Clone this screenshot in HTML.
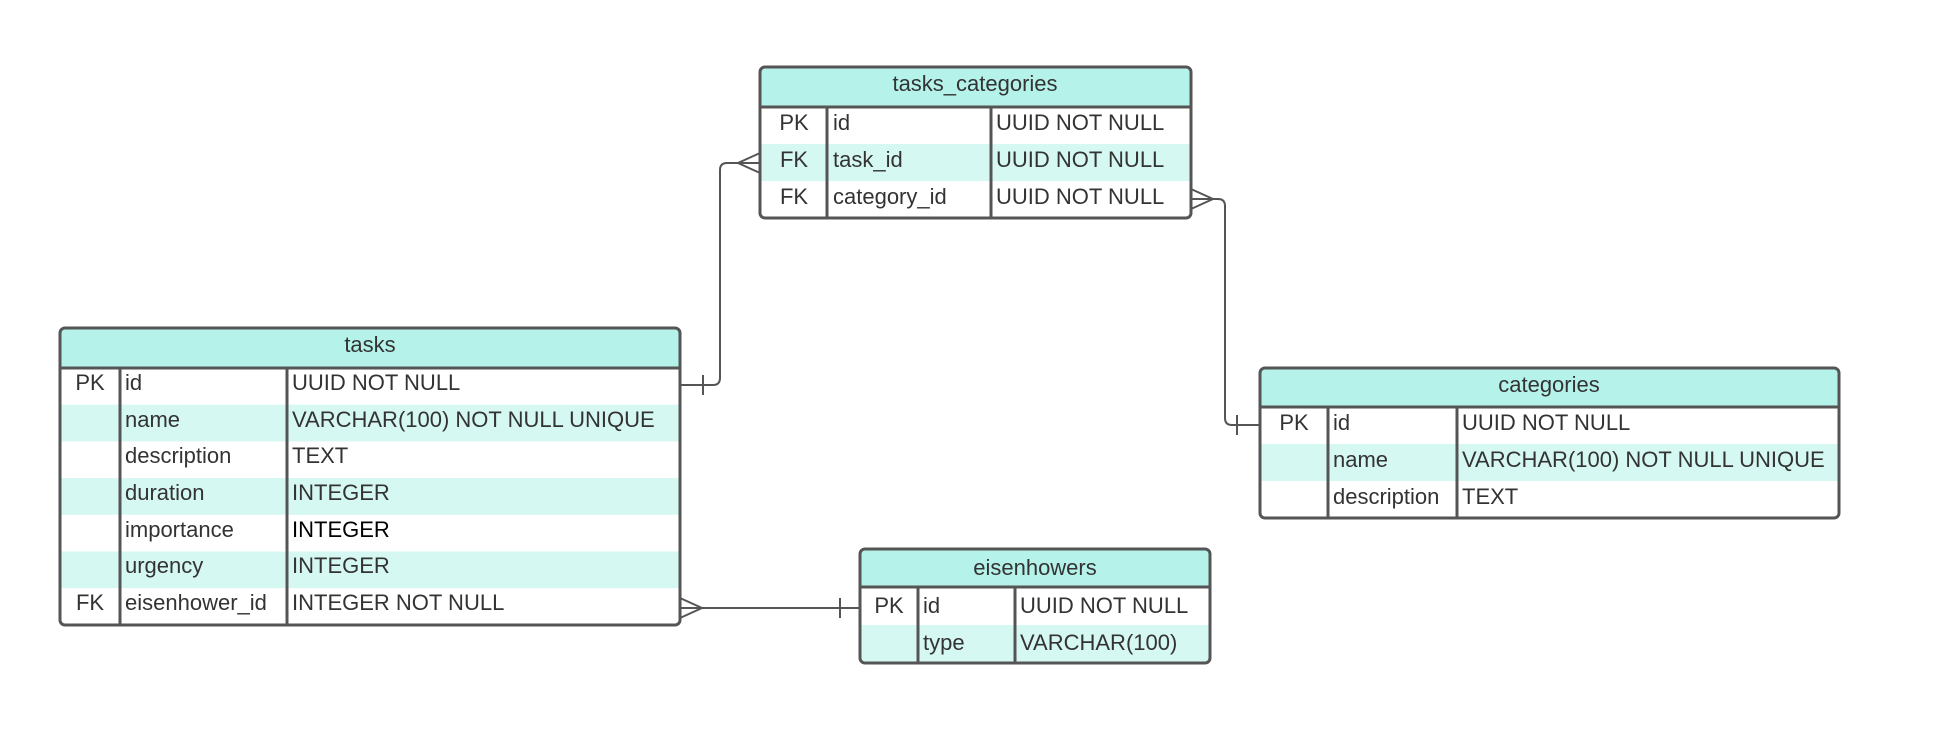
<!DOCTYPE html>
<html><head><meta charset="utf-8"><style>
html,body{margin:0;padding:0;background:#fff;}
svg{display:block;}
text{font-family:"Liberation Sans",sans-serif;font-size:22px;fill:#333;}
</style></head><body>
<svg width="1954" height="756" viewBox="0 0 1954 756" xmlns="http://www.w3.org/2000/svg">
<g fill="none" stroke="#555" stroke-width="2">
<path d="M680 385 H713 Q720 385 720 378 V170 Q720 163 727 163 H760"/>
<path d="M703 375 V395"/>
<path d="M760 153 L738 163 L760 173"/>
<path d="M1191 199 H1218 Q1225 199 1225 206 V418 Q1225 425 1232 425 H1260"/>
<path d="M1237 415 V435"/>
<path d="M1191 189 L1213 199 L1191 209"/>
<path d="M680 608 H860"/>
<path d="M840 598 V618"/>
<path d="M680 598 L702 608 L680 618"/>
</g>

<g transform="translate(0,-3)">
<g transform="translate(0,3)">
<rect x="60" y="328" width="620" height="297" rx="5" fill="#fff"/>
<path d="M65 328 H675 Q680 328 680 333 V368 H60 V333 Q60 328 65 328Z" fill="#b5f3ea"/>
<rect x="60" y="404.7" width="620" height="36.7" fill="#d5f8f2"/>
<rect x="60" y="478.1" width="620" height="36.7" fill="#d5f8f2"/>
<rect x="60" y="551.5" width="620" height="36.7" fill="#d5f8f2"/>
<g stroke="#555" stroke-width="3" fill="none">
<rect x="60" y="328" width="620" height="297" rx="5"/>
<path d="M60 368 H680 M120 368 V625 M287 368 V625"/>
</g>
</g>
<text x="370" y="355" text-anchor="middle">tasks</text>
<text x="90" y="393" text-anchor="middle">PK</text>
<text x="90" y="613" text-anchor="middle">FK</text>
<text x="125" y="393">id</text>
<text x="125" y="430">name</text>
<text x="125" y="466">description</text>
<text x="125" y="503">duration</text>
<text x="125" y="540">importance</text>
<text x="125" y="576">urgency</text>
<text x="125" y="613">eisenhower_id</text>
<text x="292" y="393">UUID NOT NULL</text>
<text x="292" y="430">VARCHAR(100) NOT NULL UNIQUE</text>
<text x="292" y="466">TEXT</text>
<text x="292" y="503">INTEGER</text>
<text x="292" y="540" style="fill:#000">INTEGER</text>
<text x="292" y="576">INTEGER</text>
<text x="292" y="613">INTEGER NOT NULL</text>
</g>

<g>
<rect x="760" y="67" width="431" height="151" rx="5" fill="#fff"/>
<path d="M765 67 H1186 Q1191 67 1191 72 V107 H760 V72 Q760 67 765 67Z" fill="#b5f3ea"/>
<rect x="760" y="144" width="431" height="37" fill="#d5f8f2"/>
<g stroke="#555" stroke-width="3" fill="none">
<rect x="760" y="67" width="431" height="151" rx="5"/>
<path d="M760 107 H1191 M827 107 V218 M991 107 V218"/>
</g>
<text x="975" y="91" text-anchor="middle">tasks_categories</text>
<text x="794" y="130" text-anchor="middle">PK</text>
<text x="794" y="167" text-anchor="middle">FK</text>
<text x="794" y="204" text-anchor="middle">FK</text>
<text x="833" y="130">id</text>
<text x="833" y="167">task_id</text>
<text x="833" y="204">category_id</text>
<text x="996" y="130">UUID NOT NULL</text>
<text x="996" y="167">UUID NOT NULL</text>
<text x="996" y="204">UUID NOT NULL</text>
</g>

<g>
<rect x="1260" y="368" width="579" height="150" rx="5" fill="#fff"/>
<path d="M1265 368 H1834 Q1839 368 1839 373 V407 H1260 V373 Q1260 368 1265 368Z" fill="#b5f3ea"/>
<rect x="1260" y="444" width="579" height="37" fill="#d5f8f2"/>
<g stroke="#555" stroke-width="3" fill="none">
<rect x="1260" y="368" width="579" height="150" rx="5"/>
<path d="M1260 407 H1839 M1328 407 V518 M1457 407 V518"/>
</g>
<text x="1549" y="392" text-anchor="middle">categories</text>
<text x="1294" y="430" text-anchor="middle">PK</text>
<text x="1333" y="430">id</text>
<text x="1333" y="467">name</text>
<text x="1333" y="504">description</text>
<text x="1462" y="430">UUID NOT NULL</text>
<text x="1462" y="467">VARCHAR(100) NOT NULL UNIQUE</text>
<text x="1462" y="504">TEXT</text>
</g>

<g>
<rect x="860" y="549" width="350" height="114" rx="5" fill="#fff"/>
<path d="M865 549 H1205 Q1210 549 1210 554 V587 H860 V554 Q860 549 865 549Z" fill="#b5f3ea"/>
<rect x="860" y="625" width="350" height="37" fill="#d5f8f2"/>
<g stroke="#555" stroke-width="3" fill="none">
<rect x="860" y="549" width="350" height="114" rx="5"/>
<path d="M860 587 H1210 M918 587 V663 M1015 587 V663"/>
</g>
<text x="1035" y="575" text-anchor="middle">eisenhowers</text>
<text x="889" y="613" text-anchor="middle">PK</text>
<text x="923" y="613">id</text>
<text x="923" y="650">type</text>
<text x="1020" y="613">UUID NOT NULL</text>
<text x="1020" y="650">VARCHAR(100)</text>
</g>
</svg>
</body></html>
